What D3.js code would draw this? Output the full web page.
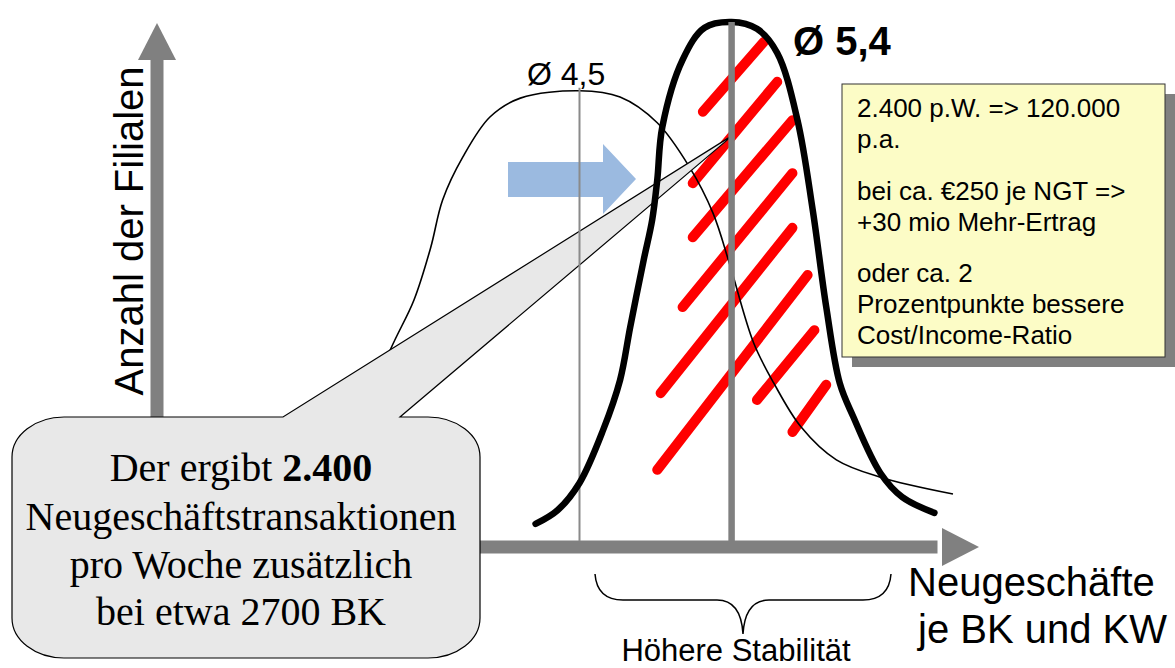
<!DOCTYPE html>
<html>
<head>
<meta charset="utf-8">
<script src="https://cdn.jsdelivr.net/npm/d3@7"></script>
<style>
  body { margin: 0; background: #fff; }
  svg { display: block; }
</style>
</head>
<body>
<div id="chart"></div>
<script>
//
// DATA
//

// means of the two distributions (Neugeschäfte je BK und KW)
const meanValues = [4.5, 5.4];
const meanLabels = ['Ø 4,5', 'Ø 5,4'];
const meanTops = [87.5, 100];

// old distribution (thin curve)
const oldX = [3.20, 3.38, 3.52, 3.62, 3.69, 3.81, 3.97, 4.15, 4.50, 4.74, 4.96,
              5.15, 5.29, 5.39, 5.53, 5.65, 5.81, 6.02, 6.28, 6.71];
const oldY = [22.3, 37.5, 47.0, 57.1, 66.1, 74.3, 81.9, 85.5, 86.9, 85.7, 80.8,
              72.4, 63.6, 53.7, 38.9, 31.2, 22.9, 16.6, 13.3, 10.1];

// new distribution (bold curve)
const newX = [4.24, 4.37, 4.50, 4.64, 4.74, 4.80, 4.88, 4.93, 4.96, 4.99, 5.11, 5.24,
              5.40, 5.55, 5.67, 5.79, 5.88, 5.96, 6.04, 6.12, 6.28, 6.41, 6.60];
const newY = [4.4, 7.0, 12.2, 22.3, 31.8, 41.9, 54.7, 62.3, 69.9, 80.0, 92.8, 98.9,
              100, 98.7, 94.1, 81.3, 64.2, 45.7, 31.2, 24.8, 14.1, 9.5, 6.5];

// red hatch strokes (start / end)
const hatchX1 = [5.23, 5.17, 5.17, 5.11, 4.98, 4.96, 5.55, 5.76];
const hatchY1 = [82.9, 69.3, 59.0, 45.7, 29.3, 14.7, 28.0, 21.9];
const hatchX2 = [5.59, 5.67, 5.76, 5.76, 5.76, 5.85, 5.89, 5.96];
const hatchY2 = [96.2, 88.6, 81.3, 71.2, 60.8, 51.8, 41.3, 30.9];

// callout pointer target
const calloutX = 5.41;
const calloutY = 78.5;

// texts
const noteLines = [
    '2.400 p.W. => 120.000', 'p.a.',
    'bei ca. €250 je NGT =>', '+30 mio Mehr-Ertrag',
    'oder ca. 2', 'Prozentpunkte bessere', 'Cost/Income-Ratio'
];
const noteBaselines = [117, 148, 200, 231, 282, 313, 344];
const bubbleLines = ['Neugeschäftstransaktionen', 'pro Woche zusätzlich', 'bei etwa 2700 BK'];

//
// CHART
//

const width = 1175;
const height = 668;
const gray = '#808080';
const sans = '"Liberation Sans", Arial, sans-serif';
const serif = '"Liberation Serif", "Times New Roman", serif';

const svg = d3.select('#chart')
    .append('svg')
        .attr('width', width)
        .attr('height', height);

const x = d3.scaleLinear()
    .domain([2, 7])
    .range([157, 1002]);
const y = d3.scaleLinear()
    .domain([0, 100])
    .range([547, 22]);

// axes (thick gray arrows)
svg.append('rect')
    .attr('x', x(2) - 6.5).attr('y', 58)
    .attr('width', 13).attr('height', y(0) + 6.5 - 58)
    .attr('fill', gray);
svg.append('path')
    .attr('d', `M${x(2) - 19},60 L${x(2) + 19},60 L${x(2)},23 Z`)
    .attr('fill', gray);
svg.append('rect')
    .attr('x', x(2) - 6.5).attr('y', y(0) - 6.5)
    .attr('width', 944 - x(2)).attr('height', 13)
    .attr('fill', gray);
svg.append('path')
    .attr('d', `M942,${y(0) - 19} L942,${y(0) + 19} L979,${y(0)} Z`)
    .attr('fill', gray);

// red hatch
svg.append('g')
    .selectAll('line')
    .data(d3.range(hatchX1.length))
    .join('line')
        .attr('x1', i => x(hatchX1[i]))
        .attr('y1', i => y(hatchY1[i]))
        .attr('x2', i => x(hatchX2[i]))
        .attr('y2', i => y(hatchY2[i]))
        .attr('stroke', '#ff0000')
        .attr('stroke-width', 10)
        .attr('stroke-linecap', 'round');

const line = d3.line()
    .x(d => x(d[0]))
    .y(d => y(d[1]))
    .curve(d3.curveCatmullRom.alpha(0.5));

// old curve
svg.append('path')
    .datum(d3.zip(oldX, oldY))
        .attr('fill', 'none')
        .attr('stroke', '#000')
        .attr('stroke-width', 1.6)
        .attr('d', line);

// blue shift arrow
svg.append('path')
    .attr('d', 'M508,162 L603,162 L603,144 L636,179 L603,214 L603,197 L508,197 Z')
    .attr('fill', '#9bbae0');

// speech bubble
const bx0 = 12, bx1 = 480, by0 = 417, by1 = 658, rx = 52, ry = 40;
const tx = x(calloutX), ty = y(calloutY);
svg.append('path')
    .attr('d', `M${bx0 + rx},${by0} L283,${by0} L${tx},${ty} L400,${by0} L${bx1 - rx},${by0}
        A${rx},${ry} 0 0 1 ${bx1},${by0 + ry} L${bx1},${by1 - ry}
        A${rx},${ry} 0 0 1 ${bx1 - rx},${by1} L${bx0 + rx},${by1}
        A${rx},${ry} 0 0 1 ${bx0},${by1 - ry} L${bx0},${by0 + ry}
        A${rx},${ry} 0 0 1 ${bx0 + rx},${by0} Z`)
    .attr('fill', '#e8e8e8')
    .attr('stroke', '#000')
    .attr('stroke-width', 1.2);

// mean lines
svg.append('line')
    .attr('x1', x(meanValues[0])).attr('x2', x(meanValues[0]))
    .attr('y1', y(meanTops[0])).attr('y2', y(0) - 6)
    .attr('stroke', '#8a8a8a')
    .attr('stroke-width', 2);

// new curve
svg.append('path')
    .datum(d3.zip(newX, newY))
        .attr('fill', 'none')
        .attr('stroke', '#000')
        .attr('stroke-width', 6.5)
        .attr('stroke-linecap', 'round')
        .attr('d', line);

svg.append('line')
    .attr('x1', x(meanValues[1])).attr('x2', x(meanValues[1]))
    .attr('y1', y(meanTops[1])).attr('y2', y(0) - 6)
    .attr('stroke', gray)
    .attr('stroke-width', 6.5);

// mean labels
svg.append('text')
    .attr('x', 527).attr('y', 85)
    .attr('font-family', sans).attr('font-size', 32)
    .text(meanLabels[0]);
svg.append('text')
    .attr('x', 793).attr('y', 55)
    .attr('font-family', sans).attr('font-size', 40).attr('font-weight', 'bold')
    .text(meanLabels[1]);

// note box
svg.append('rect')
    .attr('x', 852).attr('y', 94).attr('width', 323).attr('height', 273)
    .attr('fill', gray);
svg.append('rect')
    .attr('x', 842).attr('y', 84).attr('width', 323).attr('height', 273)
    .attr('fill', '#fcfcc6')
    .attr('stroke', '#333')
    .attr('stroke-width', 1);
svg.append('g')
    .selectAll('text')
    .data(noteLines)
    .join('text')
        .attr('x', 857)
        .attr('y', (d, i) => noteBaselines[i])
        .attr('font-family', sans)
        .attr('font-size', 26)
        .text(d => d);

// bubble text
const first = svg.append('text')
    .attr('x', 241).attr('y', 481)
    .attr('text-anchor', 'middle')
    .attr('font-family', serif).attr('font-size', 40);
first.append('tspan').text('Der ergibt ');
first.append('tspan').attr('font-weight', 'bold').text('2.400');
svg.append('g')
    .selectAll('text')
    .data(bubbleLines)
    .join('text')
        .attr('x', 241)
        .attr('y', (d, i) => 530 + i * 47.5)
        .attr('text-anchor', 'middle')
        .attr('font-family', serif)
        .attr('font-size', 40)
        .text(d => d);

// axis titles
svg.append('text')
    .attr('transform', 'translate(143,231) rotate(-90)')
    .attr('text-anchor', 'middle')
    .attr('font-family', sans).attr('font-size', 40)
    .text('Anzahl der Filialen');
svg.append('text')
    .attr('x', 908).attr('y', 596)
    .attr('font-family', sans).attr('font-size', 40)
    .text('Neugeschäfte');
svg.append('text')
    .attr('x', 918).attr('y', 643)
    .attr('font-family', sans).attr('font-size', 40)
    .text('je BK und KW');

// brace
svg.append('path')
    .attr('d', 'M595,574 Q597,600 623,600 L717,600 Q741,600 743,634 Q745,600 769,600 L863,600 Q889,600 891,574')
    .attr('fill', 'none')
    .attr('stroke', '#000')
    .attr('stroke-width', 1.5);
svg.append('text')
    .attr('x', 736).attr('y', 661)
    .attr('text-anchor', 'middle')
    .attr('font-family', sans).attr('font-size', 31)
    .text('Höhere Stabilität');
</script>
</body>
</html>
